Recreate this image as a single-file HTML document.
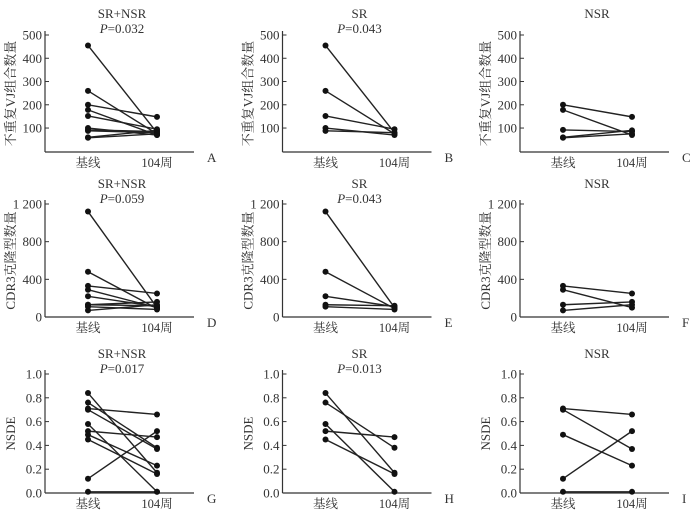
<!DOCTYPE html>
<html><head><meta charset="utf-8">
<style>
body{margin:0;background:#fff;width:690px;height:521px;overflow:hidden}
svg text{font-family:"Liberation Serif","Noto Serif CJK SC",serif;fill:#333}
</style></head>
<body>
<svg id="chart" width="690" height="521" viewBox="0 0 690 521"></svg>
<script>
const categories=["基线","104周"];
const titles=["SR+NSR","SR","NSR"];
const pvals=["0.032","0.043",null,"0.059","0.043",null,"0.017","0.013",null];
const letters=["A","B","C","D","E","F","G","H","I"];
const yTitles=["不重复VJ组合数量","CDR3克隆型数量","NSDE"];
const yTicks1=[100,200,300,400,500];
const yTickLabels1=["100","200","300","400","500"];
const yTicks2=[0,400,800,1200];
const yTickLabels2=["0","400","800","1 200"];
const yTicks3=[0,0.2,0.4,0.6,0.8,1.0];
const yTickLabels3=["0.0","0.2","0.4","0.6","0.8","1.0"];
// pairs [baseline, week104]
const vjAll=[[455,80],[260,75],[200,148],[178,70],[152,95],[100,70],[92,85],[88,80],[60,90],[58,75]];
const vjSR=[[455,80],[260,75],[152,95],[100,70],[88,80]];
const vjNSR=[[200,148],[178,70],[92,85],[60,90],[58,75]];
const cdAll=[[1120,100],[480,90],[330,250],[290,100],[220,110],[130,160],[130,120],[110,80],[70,130]];
const cdSR=[[1120,100],[480,90],[220,110],[130,120],[110,80]];
const cdNSR=[[330,250],[290,100],[130,160],[70,130]];
const nsAll=[[0.84,0.17],[0.76,0.38],[0.71,0.66],[0.70,0.37],[0.58,0.01],[0.52,0.47],[0.49,0.23],[0.45,0.16],[0.12,0.52],[0.01,0.01]];
const nsSR=[[0.84,0.17],[0.76,0.38],[0.58,0.01],[0.52,0.47],[0.45,0.16]];
const nsNSR=[[0.71,0.66],[0.70,0.37],[0.49,0.23],[0.12,0.52],[0.01,0.01]];

const svg=document.getElementById('chart');
const NS='http://www.w3.org/2000/svg';
function mk(tag,attrs,parent){const e=document.createElementNS(NS,tag);for(const k in attrs)e.setAttribute(k,attrs[k]);(parent||svg).appendChild(e);return e;}

const rows=[
 {top:35,bot:151.3,min:0,max:500,ticks:yTicks1,labels:yTickLabels1,axisBot:152,data:[vjAll,vjSR,vjNSR],titleY:18},
 {top:204,bot:317,min:0,max:1200,ticks:yTicks2,labels:yTickLabels2,axisBot:317,data:[cdAll,cdSR,cdNSR],titleY:188},
 {top:374,bot:493,min:0,max:1,ticks:yTicks3,labels:yTickLabels3,axisBot:493,data:[nsAll,nsSR,nsNSR],titleY:358}
];
for(let r=0;r<3;r++){
 const R=rows[r];
 for(let c=0;c<3;c++){
  const ox=45+c*237.5, idx=r*3+c;
  const g=mk('g',{});
  
  
  const yS=v=>R.bot-(v-R.min)/(R.max-R.min)*(R.bot-R.top);
  const xS=i=>ox+43+i*69;
  mk('line',{x1:ox,y1:R.top-4,x2:ox,y2:R.axisBot,stroke:'#333','stroke-width':1.2},g);
  mk('line',{x1:ox,y1:R.axisBot,x2:ox+149,y2:R.axisBot,stroke:'#333','stroke-width':1.2},g);
  R.ticks.forEach((t,i)=>{const y=yS(t);
   mk('line',{x1:ox,y1:y,x2:ox+4,y2:y,stroke:'#333','stroke-width':1},g);
   const tx=mk('text',{x:ox-3,y:y+4.5,'text-anchor':'end','font-size':13},g);tx.textContent=R.labels[i];
   });
  categories.forEach((cat,i)=>{const t=mk('text',{x:xS(i),y:R.axisBot+15,'text-anchor':'middle','font-size':12.5},g);t.textContent=cat;
   });
  const L=mk('text',{x:ox+162,y:R.axisBot+10,'font-size':13},g);L.textContent=letters[idx];
  
  const T=mk('text',{x:ox+77,y:R.titleY,'text-anchor':'middle','font-size':13},g);T.textContent=titles[c];
  
  if(pvals[idx]){const P=mk('text',{x:ox+77,y:R.titleY+15,'text-anchor':'middle','font-size':13},g);
   P.innerHTML='<tspan font-style="italic">P</tspan>='+pvals[idx];
   }
  const yc=(R.top+R.axisBot)/2;
  const Y=mk('text',{x:ox-30,y:yc,'text-anchor':'middle','font-size':13,transform:'rotate(-90 '+(ox-30)+' '+yc+')'},g);
  Y.textContent=yTitles[r];
  R.data[c].forEach(p=>{
   const ln=mk('line',{x1:xS(0),y1:yS(p[0]),x2:xS(1),y2:yS(p[1]),stroke:'#222','stroke-width':1.4},g);
   
   p.forEach((v,i)=>{const d=mk('circle',{cx:xS(i),cy:yS(v),r:3,fill:'#111'},g);
    });
  });
 }
}
</script>
</body></html>
